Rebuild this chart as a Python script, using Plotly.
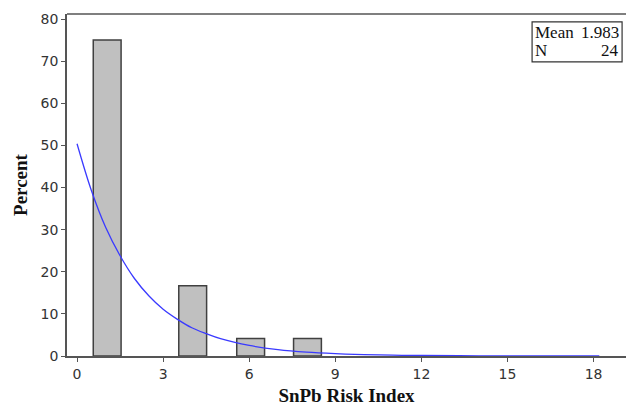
import plotly.graph_objects as go

# Histogram bins (midpoints) and percentages
bin_mid = [1.05, 4.03, 6.05, 8.03]
percent = [75.0, 16.67, 4.17, 4.17]

# Fitted curve
curve_x = [0, 0.5, 1, 1.5, 2, 2.5, 3, 3.5, 4, 4.5, 5, 6, 7, 8, 9, 10, 11, 12, 14, 16, 18.2]
curve_y = [50.4, 39.3, 30.5, 23.8, 18.4, 14.3, 11.1, 8.7, 6.7, 5.3, 4.1, 2.5, 1.5, 0.9, 0.55, 0.33, 0.2, 0.12, 0.05, 0.02, 0.01]

x_ticks = [0, 3, 6, 9, 12, 15, 18]
y_ticks = [0, 10, 20, 30, 40, 50, 60, 70, 80]

stats_labels = ["Mean", "N"]
stats_values = ["1.983", "24"]

fig = go.Figure()
fig.add_trace(go.Bar(x=bin_mid, y=percent, width=0.97,
                     marker=dict(color="#c0c0c0", line=dict(color="#404040", width=1.5)),
                     showlegend=False))
fig.add_trace(go.Scatter(x=curve_x, y=curve_y, mode="lines",
                         line=dict(color="#3a3aff", width=1.3, shape="spline"),
                         showlegend=False))

tickfont = dict(family="DejaVu Sans", size=14, color="#333333")
titlefont = dict(family="Liberation Serif", size=19, color="#111111")
fig.update_layout(
    width=626, height=406,
    margin=dict(l=67, r=0, t=14, b=50),
    plot_bgcolor="white", paper_bgcolor="white",
    xaxis=dict(range=[-0.35, 19.13], tickvals=x_ticks, ticks="outside", ticklen=4,
               tickcolor="#555555", showline=True, linecolor="#555555", linewidth=1.5,
               mirror=False, showgrid=False, zeroline=False, tickfont=tickfont,
               title=dict(text="<b>SnPb Risk Index</b>", font=titlefont, standoff=9)),
    yaxis=dict(range=[0, 81.2], tickvals=y_ticks, ticks="outside", ticklen=4,
               tickcolor="#555555", showline=True, linecolor="#555555", linewidth=1.5,
               showgrid=False, zeroline=False, tickfont=tickfont,
               title=dict(text="<b>Percent</b>", font=titlefont, standoff=8)),
)

# top frame line
fig.add_shape(type="line", xref="paper", yref="paper", x0=0, x1=1, y0=1, y1=1,
              line=dict(color="#555555", width=1.5))

# Stats box
fig.add_shape(type="rect", xref="paper", yref="paper", x0=0.832, x1=0.993, y0=0.860, y1=0.977,
              line=dict(color="#333333", width=1.2), fillcolor="white")
row_y = [0.947, 0.893]
for lab, val, yy in zip(stats_labels, stats_values, row_y):
    fig.add_annotation(xref="paper", yref="paper", x=0.833, y=yy, text=lab, showarrow=False,
                       xanchor="left", yanchor="middle",
                       font=dict(family="Liberation Serif", size=17, color="#111111"))
    fig.add_annotation(xref="paper", yref="paper", x=0.991, y=yy, text=val, showarrow=False,
                       xanchor="right", yanchor="middle",
                       font=dict(family="Liberation Serif", size=17, color="#111111"))

fig.write_html("out.html", config={"displayModeBar": False})
